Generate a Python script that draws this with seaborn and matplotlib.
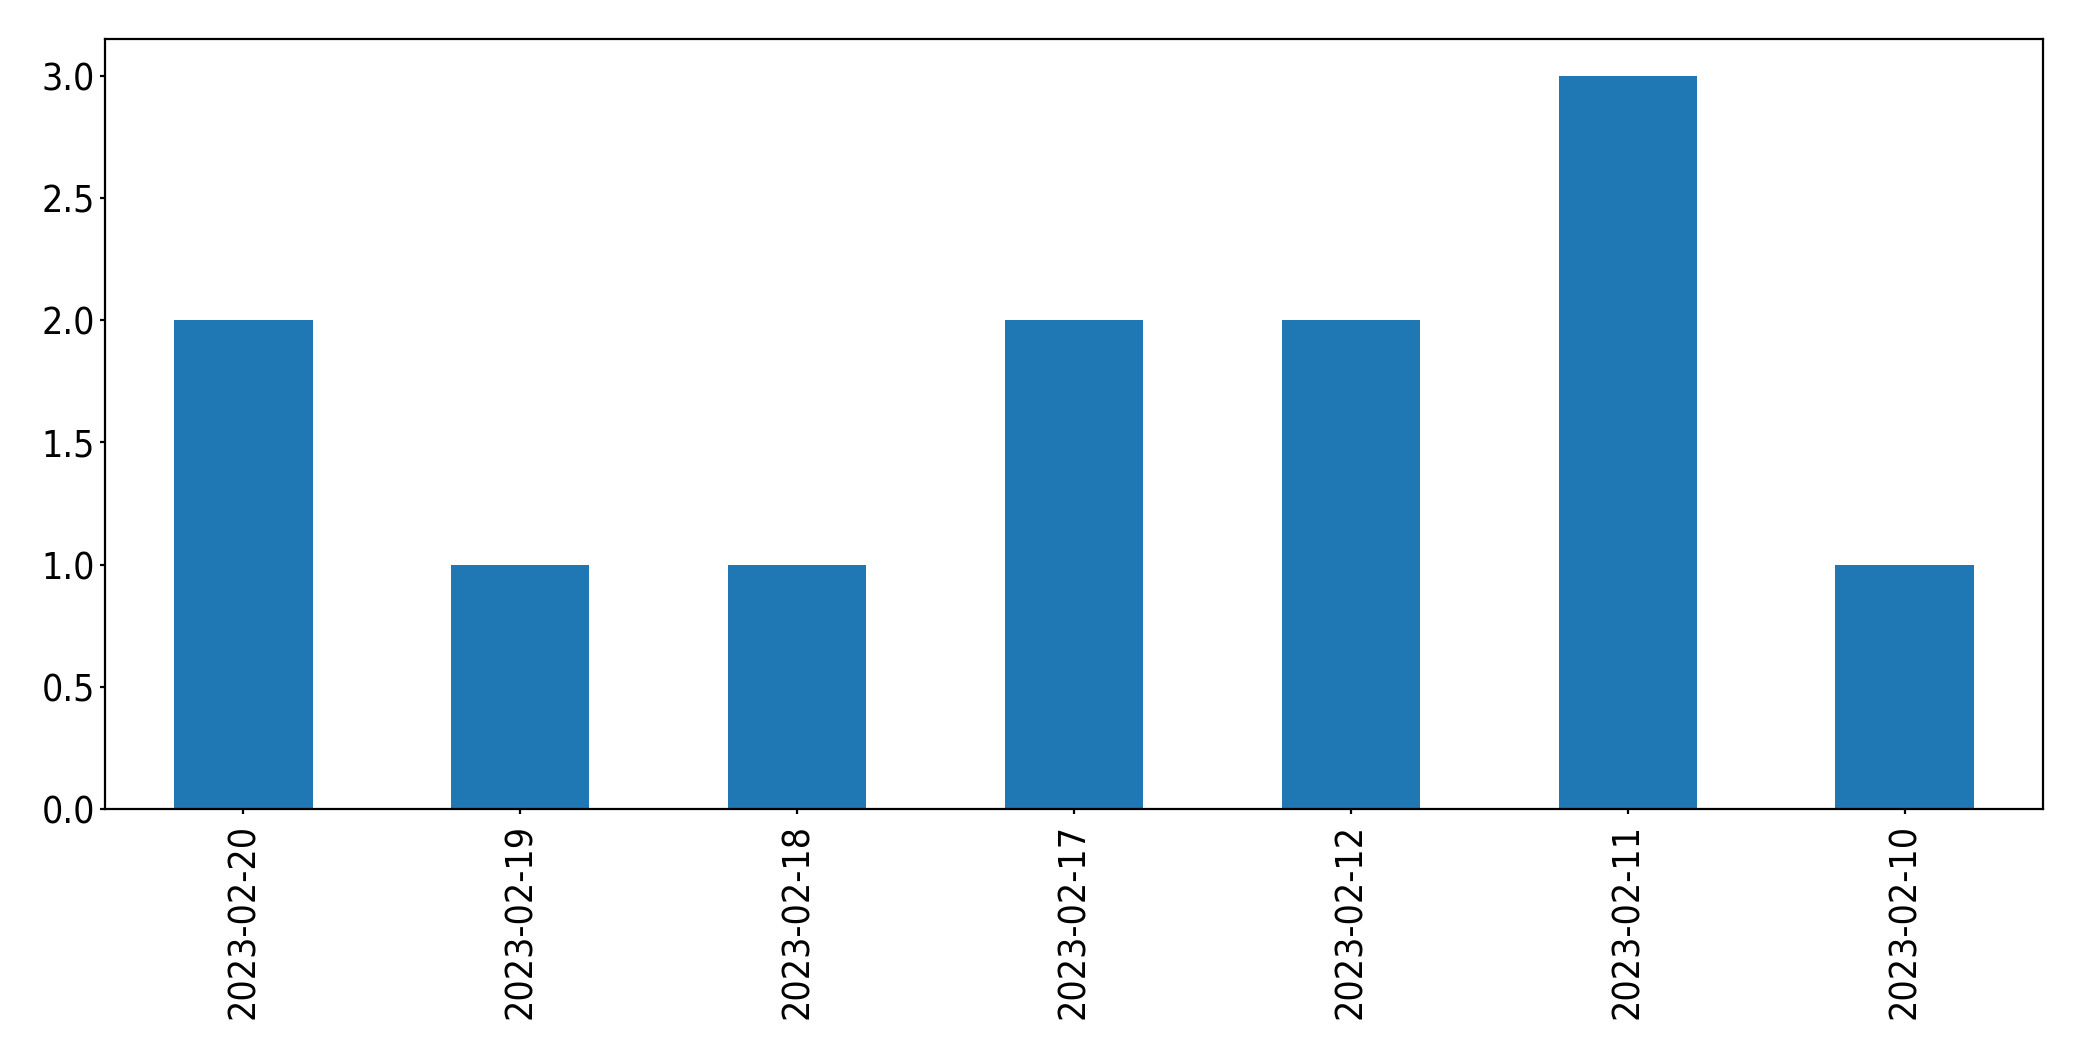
import pandas as pd
import matplotlib
matplotlib.use("Agg")
import matplotlib.pyplot as plt
import seaborn as sns

# Counts per day (order as shown, newest first)
dates = ["2023-02-20", "2023-02-19", "2023-02-18", "2023-02-17",
         "2023-02-12", "2023-02-11", "2023-02-10"]
counts = [2, 1, 1, 2, 2, 3, 1]

df = pd.DataFrame({"date": dates, "count": counts})

plt.rcParams["font.size"] = 13.4
plt.rcParams["font.stretch"] = "condensed"

fig, ax = plt.subplots(figsize=(10.41, 5.305), dpi=200)
sns.barplot(data=df, x="date", y="count", order=dates, color="#1f77b4",
            saturation=1, width=0.5, ax=ax)

ax.set_xlabel("")
ax.set_ylabel("")
ax.tick_params(axis="x", labelrotation=90, length=1.8, pad=3.6)
ax.tick_params(axis="y", length=1.8, pad=1.7)
ax.set_xlim(-0.5, len(dates) - 0.5)
ax.set_ylim(0, 3.15)
for s in ax.spines.values():
    s.set_visible(True)

fig.subplots_adjust(left=0.0504, right=0.9813, top=0.9632, bottom=0.2375)
fig.savefig("out.png", dpi=200)
